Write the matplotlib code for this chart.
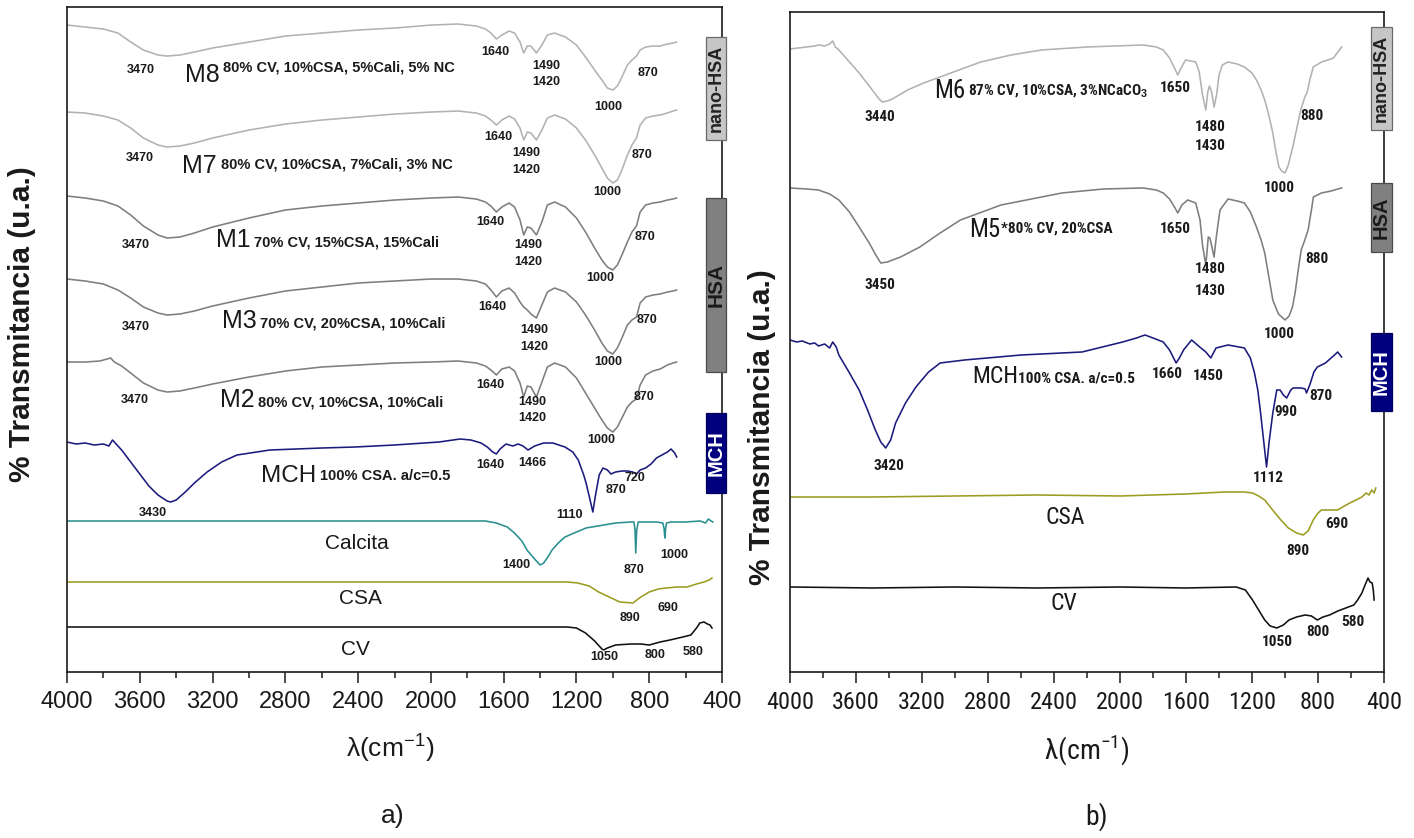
import matplotlib
matplotlib.use("Agg")
import matplotlib.pyplot as plt
from matplotlib import font_manager as fm
from matplotlib.patches import Rectangle
from matplotlib.ticker import MultipleLocator

# ---------------------------------------------------------------- fonts
_entries = fm.fontManager.ttflist
_names = {f.name for f in _entries}
SANS = "Liberation Sans" if "Liberation Sans" in _names else "DejaVu Sans"


def _narrow_font():
    for fam in ("Liberation Sans Narrow", "Arial Narrow", "Roboto Condensed",
                "Open Sans Condensed", "Noto Sans Condensed", "DejaVu Sans Condensed"):
        if fam in _names:
            return {"fontfamily": fam}
    for fam in ("Liberation Sans", "Roboto", "Noto Sans", "Open Sans", "DejaVu Sans"):
        for f in _entries:
            if f.name == fam and f.stretch in ("condensed", "semi-condensed"):
                return {"fontfamily": fam, "fontstretch": f.stretch}
    return None


_nf = _narrow_font()
NARROW_OK = _nf is not None
NFONT = _nf if NARROW_OK else {"fontfamily": SANS}

plt.rcParams["font.family"] = [SANS, "DejaVu Sans"]
plt.rcParams["mathtext.fontset"] = "custom"
plt.rcParams["mathtext.rm"] = SANS
plt.rcParams["mathtext.bf"] = SANS + ":bold"

# ---------------------------------------------------------------- colours
LIGHT = "#b2b2b2"
GRAY = "#7e7e7e"
NAVY = "#1b1b7d"
TEAL = "#2a8f8f"
OLIVE = "#9c9c22"
BLACK = "#111111"
INK = "#1a1a1a"

# ================================================================ panel a)
# stacked transmittance (u.a.), wavenumber in cm-1
wn_hsa = [4000, 3900, 3800, 3720, 3650, 3580, 3500, 3450, 3380, 3300,
          3200, 3000, 2800, 2600, 2400, 2200, 2000, 1850, 1750, 1700,
          1670, 1640, 1610, 1570, 1540, 1510, 1490, 1470, 1450, 1420,
          1390, 1360, 1320, 1260, 1200, 1150, 1100, 1060, 1030, 1000,
          975, 950, 920, 895, 870, 850, 820, 780, 740, 700,
          670, 650]
t_m8 = [647, 645, 643, 639, 630, 622, 617, 616, 617, 620,
        624, 630, 636, 639, 642, 644, 647, 648, 646, 643,
        639, 633, 637, 641, 639, 630, 619, 626, 626, 619,
        627, 637, 639, 635, 627, 615, 602, 592, 584, 582,
        586, 595, 607, 612, 616, 622, 625, 626, 626, 628,
        629, 630]
t_m7 = [560, 559, 556, 552, 544, 534, 527, 525, 526, 529,
        534, 542, 548, 552, 555, 558, 560, 561, 559, 556,
        552, 547, 552, 556, 553, 544, 532, 540, 539, 532,
        542, 554, 557, 553, 544, 532, 517, 504, 494, 489,
        492, 502, 517, 527, 534, 547, 554, 556, 557, 559,
        561, 562]
t_m1 = [476, 474, 471, 466, 457, 446, 437, 434, 435, 439,
        445, 454, 462, 466, 469, 472, 474, 475, 473, 470,
        466, 460, 465, 469, 465, 452, 437, 445, 444, 437,
        450, 467, 470, 465, 454, 440, 424, 412, 405, 402,
        407, 417, 430, 440, 446, 460, 467, 469, 470, 472,
        473, 474]
t_m3 = [393, 391, 388, 382, 374, 365, 359, 357, 358, 361,
        366, 374, 381, 385, 389, 391, 393, 393, 391, 388,
        382, 375, 381, 384, 379, 370, 365, 362, 358, 354,
        367, 380, 384, 380, 370, 357, 342, 329, 321, 318,
        324, 334, 347, 352, 355, 369, 375, 377, 378, 380,
        381, 382]
wn_m2 = [4000, 3900, 3820, 3760, 3740, 3700, 3650, 3580, 3500, 3450,
         3380, 3300, 3200, 3000, 2800, 2600, 2400, 2200, 2000, 1850,
         1750, 1700, 1670, 1640, 1610, 1570, 1540, 1510, 1490, 1470,
         1450, 1420, 1390, 1360, 1320, 1260, 1200, 1150, 1100, 1060,
         1030, 1000, 975, 950, 920, 895, 870, 850, 820, 780,
         740, 700, 670, 650]
t_m2 = [310, 310, 311, 314, 310, 306, 299, 289, 282, 280,
        281, 284, 288, 295, 301, 305, 307, 309, 310, 311,
        309, 306, 302, 297, 303, 305, 301, 289, 275, 286,
        285, 275, 290, 305, 309, 305, 294, 279, 264, 252,
        244, 240, 245, 254, 265, 270, 273, 287, 297, 301,
        303, 307, 309, 310]
wn_mch_a = [4000, 3950, 3900, 3850, 3800, 3770, 3750, 3730, 3700, 3650,
            3600, 3550, 3500, 3450, 3430, 3400, 3350, 3300, 3230, 3150,
            3066, 2885, 2600, 2417, 2200, 1955, 1840, 1780, 1724, 1690,
            1660, 1640, 1620, 1587, 1550, 1520, 1494, 1466, 1430, 1380,
            1330, 1263, 1220, 1190, 1160, 1147, 1125, 1110, 1095, 1075,
            1054, 1030, 1010, 985, 950, 920, 890, 870, 850, 820,
            790, 760, 730, 700, 680, 660, 649]
t_mch_a = [230, 228, 229, 227, 228, 226, 232, 228, 222, 210,
           198, 186, 177, 171, 170, 172, 180, 189, 200, 210,
           217, 222, 224, 225, 227, 230, 233, 232, 229, 225,
           220, 218, 223, 228, 226, 228, 226, 222, 226, 229,
           229, 225, 220, 212, 197, 189, 172, 160, 177, 197,
           204, 202, 198, 200, 201, 201, 200, 198, 202, 204,
           208, 214, 217, 220, 223, 219, 215]
wn_calcita = [4000, 3000, 2100, 1700, 1640, 1580, 1541, 1500, 1472, 1430,
              1400, 1380, 1350, 1334, 1300, 1263, 1200, 1147, 1050, 985,
              900, 884, 878, 874, 869, 860, 760, 725, 718, 714,
              710, 705, 680, 600, 520, 490, 475, 460, 450]
t_calcita = [151, 151, 151, 151, 149, 145, 139, 131, 122, 113,
             107, 109, 117, 122, 129, 135, 140, 144, 147, 149,
             150, 150, 142, 119, 142, 150, 150, 149, 143, 134,
             143, 149, 150, 150, 151, 149, 153, 151, 150]
wn_csa_a = [4000, 3000, 2000, 1500, 1250, 1193, 1130, 1078, 1020, 962,
            890, 846, 800, 750, 707, 650, 592, 540, 499, 470, 455]
t_csa_a = [90, 90, 90, 90, 90, 89, 86, 80, 75, 70,
           69, 75, 80, 83, 84, 85, 85, 88, 90, 92, 94]
wn_cv_a = [4000, 3000, 2000, 1500, 1250, 1200, 1150, 1100, 1060, 1050,
           1030, 985, 900, 846, 800, 740, 686, 615, 571, 540,
           522, 499, 480, 466, 455]
t_cv_a = [45, 45, 45, 45, 45, 44, 39, 31, 23, 22,
          24, 27, 28, 28, 27, 30, 32, 35, 37, 44,
          49, 50, 48, 47, 44]

# ================================================================ panel b)
wn_m6 = [4000, 3950, 3900, 3850, 3827, 3790, 3760, 3741, 3725, 3704,
         3650, 3581, 3520, 3460, 3440, 3410, 3380, 3287, 3190, 3090,
         2960, 2844, 2660, 2475, 2200, 1861, 1780, 1738, 1700, 1670,
         1650, 1630, 1603, 1570, 1541, 1520, 1500, 1480, 1468, 1458,
         1445, 1430, 1415, 1400, 1380, 1345, 1290, 1246, 1200, 1173,
         1145, 1123, 1100, 1074, 1055, 1037, 1020, 1000, 980, 950,
         927, 905, 880, 865, 850, 829, 779, 740, 706, 680, 657]
t_m6 = [623, 624, 625, 626, 627, 626, 628, 631, 625, 622,
        612, 599, 586, 573, 570, 571, 573, 582, 589, 595,
        603, 610, 617, 622, 625, 627, 625, 622, 614, 604,
        597, 604, 612, 611, 610, 600, 577, 562, 580, 586,
        580, 565, 577, 597, 607, 610, 608, 605, 599, 592,
        582, 572, 558, 539, 520, 505, 501, 499, 507, 527,
        545, 562, 575, 580, 592, 605, 610, 612, 614, 620, 625]
wn_m5 = [4000, 3900, 3827, 3760, 3704, 3640, 3581, 3520, 3480, 3450,
         3410, 3330, 3213, 3090, 2967, 2721, 2352, 2100, 1861, 1780,
         1738, 1700, 1670, 1650, 1625, 1590, 1541, 1515, 1500, 1480,
         1465, 1455, 1430, 1415, 1394, 1345, 1290, 1246, 1210, 1173,
         1145, 1123, 1100, 1074, 1040, 1000, 975, 955, 939, 920,
         902, 880, 860, 840, 828, 779, 720, 680, 657]
t_m5 = [484, 483, 482, 478, 472, 460, 445, 429, 417, 409,
        410, 415, 425, 439, 452, 467, 479, 483, 484, 482,
        479, 473, 465, 459, 467, 472, 469, 452, 427, 407,
        435, 434, 415, 437, 462, 473, 471, 469, 460, 445,
        432, 419, 397, 372, 358, 352, 356, 365, 379, 402,
        422, 432, 442, 462, 475, 479, 481, 483, 484]
wn_mch_b = [4000, 3960, 3925, 3880, 3850, 3827, 3790, 3760, 3741, 3720,
            3704, 3650, 3581, 3530, 3483, 3450, 3420, 3390, 3360, 3300,
            3237, 3160, 3090, 2942, 2598, 2230, 1984, 1900, 1849, 1800,
            1738, 1700, 1660, 1640, 1615, 1566, 1517, 1480, 1450, 1418,
            1345, 1246, 1210, 1185, 1165, 1148, 1130, 1112, 1095, 1074,
            1050, 1030, 1010, 990, 965, 951, 900, 878, 870, 850,
            825, 804, 755, 700, 681, 657]
t_mch_b = [332, 330, 331, 328, 329, 326, 328, 324, 330, 325,
           317, 302, 282, 262, 242, 230, 224, 232, 249, 269,
           285, 300, 309, 312, 317, 320, 330, 334, 337, 334,
           330, 322, 309, 314, 322, 332, 325, 320, 314, 324,
           327, 324, 314, 299, 282, 259, 232, 205, 232, 259,
           282, 282, 277, 274, 282, 284, 284, 283, 279, 287,
           300, 305, 309, 317, 320, 315]
wn_csa_b = [4000, 3500, 3000, 2500, 2000, 1600, 1369, 1250, 1197, 1160,
            1123, 1075, 1025, 980, 930, 890, 860, 829, 800, 779,
            730, 681, 640, 607, 570, 534, 509, 490, 475, 460, 450]
t_csa_b = [175, 175, 176, 177, 176, 178, 180, 180, 179, 176,
           172, 162, 152, 144, 139, 137, 141, 152, 159, 162,
           162, 162, 166, 169, 172, 175, 179, 177, 182, 179, 184]
wn_cv_b = [4000, 3500, 3000, 2500, 2000, 1600, 1296, 1240, 1197, 1160,
           1123, 1090, 1050, 1010, 976, 930, 878, 840, 804, 770,
           730, 680, 632, 583, 560, 534, 515, 497, 485, 472, 465, 460]
t_cv_b = [85, 84, 85, 84, 85, 84, 85, 82, 72, 62,
          52, 46, 44, 47, 52, 55, 57, 56, 52, 55,
          57, 61, 64, 67, 72, 79, 87, 94, 90, 89, 82, 72]

# peak annotations (text, wavenumber, transmittance)
peaks_a = [
    ("3470", 3593, 602), ("1640", 1648, 620), ("1490", 1367, 606), ("1420", 1367, 590),
    ("1000", 1027, 565), ("870", 807, 599),
    ("3470", 3599, 514), ("1640", 1631, 535), ("1490", 1477, 519), ("1420", 1477, 502),
    ("1000", 1032, 480), ("870", 840, 517),
    ("3470", 3621, 427), ("1640", 1675, 450), ("1490", 1466, 427), ("1420", 1466, 410),
    ("1000", 1071, 394), ("870", 823, 435),
    ("3470", 3621, 345), ("1640", 1664, 365), ("1490", 1433, 342), ("1420", 1433, 325),
    ("1000", 1027, 310), ("870", 812, 352),
    ("3470", 3626, 272), ("1640", 1675, 287), ("1490", 1444, 270), ("1420", 1444, 254),
    ("1000", 1065, 232), ("870", 829, 275),
    ("1640", 1675, 207), ("1466", 1444, 209), ("3430", 3527, 159), ("1110", 1236, 157),
    ("870", 983, 182), ("720", 878, 194),
    ("1400", 1532, 107), ("870", 884, 102), ("1000", 664, 117),
    ("890", 906, 54), ("690", 697, 64),
    ("1050", 1049, 15), ("800", 768, 17), ("580", 560, 20),
]
peaks_b = [
    ("3440", 3455, 555), ("1650", 1667, 584), ("1480", 1455, 545), ("1430", 1455, 526),
    ("1000", 1036, 484), ("880", 836, 556),
    ("3450", 3455, 387), ("1650", 1667, 443), ("1480", 1455, 403), ("1430", 1455, 381),
    ("1000", 1036, 338), ("880", 806, 413),
    ("1660", 1715, 298), ("1450", 1467, 296), ("3420", 3400, 206), ("1112", 1103, 194),
    ("990", 994, 260), ("870", 782, 276),
    ("890", 921, 121), ("690", 685, 148),
    ("1050", 1048, 30), ("800", 800, 40), ("580", 588, 50),
]

# sample names: (name, x, baseline, size, composition, baseline, gap in points)
samples_a = [
    ("M8", 3351, 590, 18, "80% CV, 10%CSA, 5%Cali, 5% NC", 601, 2),
    ("M7", 3368, 499, 18, "80% CV, 10%CSA, 7%Cali, 3% NC", 504, 3),
    ("M1", 3181, 425, 18, "70% CV, 15%CSA, 15%Cali", 426, 2.5),
    ("M3", 3148, 344, 18, "70% CV, 20%CSA, 10%Cali", 345, 2.5),
    ("M2", 3159, 265, 18, "80% CV, 10%CSA, 10%Cali", 266, 2.5),
    ("MCH", 2934, 190, 17.5, "100% CSA. a/c=0.5", 192, 2.5),
]
refs_a = [("Calcita", 2406, 129), ("CSA", 2390, 73), ("CV", 2412, 22)]
samples_b = [
    ("M6", 3127, 574, 18, "87% CV, 10%CSA, 3%NCaCO$_\\mathbf{3}$", 577, 2),
    ("M5", 2915, 435, 18, "*80% CV, 20%CSA", 439, 0.5),
    ("MCH", 2897, 289, 17, "100% CSA. a/c=0.5", 289, 0),
]
refs_b = [("CSA", 2333, 154), ("CV", 2339, 68)]

# group tags on the right frame:
# (text, y0, y1 in axes fraction, face, edge, text colour, font size)
tags_a = [("nano-HSA", 0.800, 0.955, "#c6c6c6", "#6a6a6a", "#222222", 13),
          ("HSA", 0.451, 0.713, "#808080", "#4a4a4a", "#1a1a1a", 15),
          ("MCH", 0.269, 0.389, "#00007f", "#00005a", "white", 14.5)]
tags_b = [("nano-HSA", 0.821, 0.977, "#c6c6c6", "#6a6a6a", "#222222", 13),
          ("HSA", 0.636, 0.741, "#808080", "#4a4a4a", "#1a1a1a", 14.5),
          ("MCH", 0.395, 0.514, "#00007f", "#00005a", "white", 14.5)]

series_a = [(wn_hsa, t_m8, LIGHT), (wn_hsa, t_m7, LIGHT), (wn_hsa, t_m1, GRAY),
            (wn_hsa, t_m3, GRAY), (wn_m2, t_m2, GRAY), (wn_mch_a, t_mch_a, NAVY),
            (wn_calcita, t_calcita, TEAL), (wn_csa_a, t_csa_a, OLIVE),
            (wn_cv_a, t_cv_a, BLACK)]
series_b = [(wn_m6, t_m6, LIGHT), (wn_m5, t_m5, GRAY), (wn_mch_b, t_mch_b, NAVY),
            (wn_csa_b, t_csa_b, OLIVE), (wn_cv_b, t_cv_b, BLACK)]

fig = plt.figure(figsize=(14.14, 8.38), dpi=100)
ax_a = fig.add_axes([0.0474, 0.1981, 0.4632, 0.7935])
ax_b = fig.add_axes([0.5587, 0.1981, 0.4201, 0.7876])


def frame(ax, ymax, font, ticksize):
    ax.set_xlim(4000, 400)
    ax.set_ylim(0, ymax)
    ax.xaxis.set_major_locator(MultipleLocator(400))
    ax.xaxis.set_minor_locator(MultipleLocator(200))
    ax.tick_params(axis="x", which="major", direction="out", length=8, width=1.1,
                   pad=6, labelsize=ticksize, colors=INK)
    ax.tick_params(axis="x", which="minor", direction="out", length=4, width=1.1,
                   colors=INK)
    ax.set_yticks([])
    for lab in ax.get_xticklabels():
        lab.set_fontfamily(font["fontfamily"])
        if "fontstretch" in font:
            lab.set_fontstretch(font["fontstretch"])
    for s in ax.spines.values():
        s.set_linewidth(1.2)
        s.set_color(INK)


def tags(ax, items, x0, x1):
    for text, y0, y1, fc, ec, tc, fs in items:
        ax.add_patch(Rectangle((x0, y0), x1 - x0, y1 - y0, transform=ax.transAxes,
                               facecolor=fc, edgecolor=ec, linewidth=0.9,
                               clip_on=False, zorder=5))
        ax.text((x0 + x1) / 2, (y0 + y1) / 2, text, transform=ax.transAxes,
                rotation=90, ha="center", va="center", fontsize=fs,
                fontweight="bold", color=tc, zorder=6, clip_on=False)


def name_labels(ax, items, comp_size, font):
    for name, x, y, size, comp, cy, gap in items:
        art = ax.text(x, y, name, ha="left", va="baseline", fontsize=size,
                      color=INK, **font)
        ax.annotate(comp, xy=(1, cy), xycoords=(art, "data"),
                    xytext=(gap, 0), textcoords="offset points",
                    ha="left", va="baseline", fontsize=comp_size,
                    fontweight="bold", color=INK, **font)


# ---- panel a
SFONT = {"fontfamily": SANS}
frame(ax_a, 665, SFONT, 17)
for wn, t, c in series_a:
    ax_a.plot(wn, t, color=c, lw=1.15)
for txt, x, y in peaks_a:
    ax_a.text(x, y, txt, ha="center", va="center", fontsize=9,
              fontweight="bold", color=INK)
name_labels(ax_a, samples_a, 10.5, SFONT)
for name, x, y in refs_a:
    ax_a.text(x, y, name, ha="center", va="center", fontsize=15, color=INK)
tags(ax_a, tags_a, 0.9756, 1.0061)

# ---- panel b
frame(ax_b, 660, NFONT, 17.5 if NARROW_OK else 15.5)
for wn, t, c in series_b:
    ax_b.plot(wn, t, color=c, lw=1.15)
for txt, x, y in peaks_b:
    ax_b.text(x, y, txt, ha="center", va="center", fontsize=11 if NARROW_OK else 9.5,
              fontweight="bold", color=INK, **NFONT)
if not NARROW_OK:
    samples_b = [(n, x, y, s - 2, c, cy, g) for n, x, y, s, c, cy, g in samples_b]
name_labels(ax_b, samples_b, 11 if NARROW_OK else 9.5, NFONT)
for name, x, y in refs_b:
    ax_b.text(x, y, name, ha="center", va="center", fontsize=17 if NARROW_OK else 15,
              color=INK, **NFONT)
tags(ax_b, tags_b, 0.978, 1.013)

# ---- shared figure texts
ylab = "% Transmitancia (u.a.)"
fig.text(0.0156, 0.6134, ylab, rotation=90, ha="center", va="center",
         fontsize=21.5, fontweight="bold", color=INK)
fig.text(0.5390, 0.4900, ylab, rotation=90, ha="center", va="center",
         fontsize=21.5, fontweight="bold", color=INK)
xlab = "λ(cm$^{\\mathregular{-1}}$)"
fig.text(0.2758, 0.1074, xlab, ha="center", va="center", fontsize=19, color=INK)
fig.text(0.7687, 0.1050, xlab, ha="center", va="center",
         fontsize=20 if NARROW_OK else 19, color=INK, **NFONT)
fig.text(0.2780, 0.0260, "a)", ha="center", va="center", fontsize=19, color=INK)
fig.text(0.7758, 0.0260, "b)", ha="center", va="center",
         fontsize=20 if NARROW_OK else 19, color=INK, **NFONT)

fig.savefig("out.png", dpi=100, facecolor="white")
